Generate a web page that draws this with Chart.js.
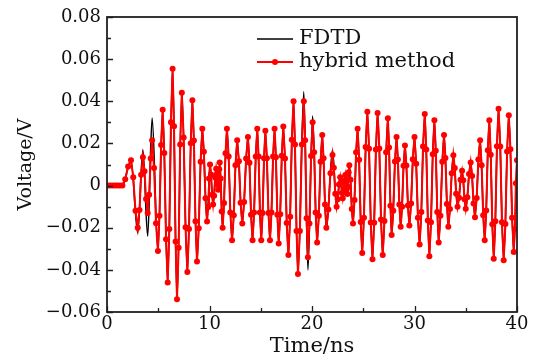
<!DOCTYPE html>
<html>
<head>
<meta charset="utf-8">
<script src="https://cdn.jsdelivr.net/npm/chart.js@4/dist/chart.umd.min.js"></script>
<style>
  html, body { margin: 0; padding: 0; background: #fff; }
  canvas { display: block; }
</style>
</head>
<body>
<canvas id="chart" width="534" height="363"></canvas>
<script>
// FDTD reference: extrema of the waveform (ns, V)
const fdtdTime = [0, 1.5, 2.34, 3.0, 3.5, 3.97, 4.4, 4.97, 5.43, 5.92,
  6.4, 6.83, 7.3, 7.84, 8.33, 8.78, 9.3, 9.76, 10.05, 10.35,
  10.65, 10.85, 11.0, 11.28, 11.7, 12.2, 12.7, 13.2, 13.75, 14.2,
  14.66, 15.05, 15.45, 15.9, 16.35, 16.75, 17.2, 17.7, 18.2, 18.63,
  19.2, 19.6, 20.06, 20.5, 21.0, 21.4, 22.0, 22.4, 22.75, 23.0,
  23.25, 23.45, 23.64, 24.0, 24.45, 24.9, 25.4, 25.9, 26.4, 26.9,
  27.4, 27.77, 28.25, 28.65, 29.07, 29.5, 30.0, 30.5, 31.0, 31.45,
  31.94, 32.36, 32.88, 33.3, 33.79, 34.2, 34.64, 35.0, 35.48, 35.9,
  36.4, 36.85, 37.3, 37.73, 38.2, 38.7, 39.2, 39.68, 40.0];
const fdtdVolt = [0, 0, 0.012, -0.0225, 0.017, -0.024, 0.032, -0.031, 0.036, -0.046,
  0.0555, -0.054, 0.044, -0.041, 0.0405, -0.036, 0.027, -0.017, 0.010, -0.009,
  0.008, -0.002, 0.011, -0.020, 0.027, -0.026, 0.0215, -0.018, 0.023, -0.026,
  0.027, -0.026, 0.026, -0.026, 0.027, -0.0275, 0.028, -0.033, 0.040, -0.042,
  0.0445, -0.040, 0.033, -0.027, 0.024, -0.021, 0.017, -0.010, 0.004, -0.006,
  0.005, -0.004, 0.0097, -0.018, 0.027, -0.032, 0.035, -0.035, 0.0345, -0.033,
  0.032, -0.0235, 0.023, -0.0196, 0.019, -0.019, 0.023, -0.028, 0.034, -0.0335,
  0.031, -0.027, 0.024, -0.0196, 0.0144, -0.010, 0.007, -0.011, 0.011, -0.015,
  0.0215, -0.026, 0.031, -0.0347, 0.0365, -0.0354, 0.0334, -0.0315, 0.012];

// hybrid method samples (ns, V)
const hybridTime = [0, 0.25, 0.5, 0.75, 1.0, 1.25, 1.5,
  1.78, 2.06, 2.34, 2.56, 2.78, 3.0, 3.17, 3.33, 3.5,
  3.66, 3.81, 3.97, 4.11, 4.26, 4.4, 4.59, 4.78, 4.97,
  5.12, 5.28, 5.43, 5.59, 5.76, 5.92, 6.08, 6.24, 6.4,
  6.54, 6.69, 6.83, 6.99, 7.14, 7.3, 7.48, 7.66, 7.84,
  8.0, 8.17, 8.33, 8.48, 8.63, 8.78, 8.95, 9.13, 9.3,
  9.45, 9.61, 9.76, 9.86, 9.95, 10.05, 10.15, 10.25, 10.35,
  10.45, 10.55, 10.65, 10.72, 10.78, 10.85, 10.9, 10.95, 11.0,
  11.09, 11.19, 11.28, 11.42, 11.56, 11.7, 11.87, 12.03, 12.2,
  12.37, 12.53, 12.7, 12.87, 13.03, 13.2, 13.38, 13.57, 13.75,
  13.9, 14.05, 14.2, 14.35, 14.51, 14.66, 14.79, 14.92, 15.05,
  15.18, 15.32, 15.45, 15.6, 15.75, 15.9, 16.05, 16.2, 16.35,
  16.48, 16.62, 16.75, 16.9, 17.05, 17.2, 17.37, 17.53, 17.7,
  17.87, 18.03, 18.2, 18.34, 18.49, 18.63, 18.82, 19.01, 19.2,
  19.33, 19.47, 19.6, 19.75, 19.91, 20.06, 20.21, 20.35, 20.5,
  20.67, 20.83, 21.0, 21.13, 21.27, 21.4, 21.6, 21.8, 22.0,
  22.13, 22.27, 22.4, 22.52, 22.63, 22.75, 22.83, 22.92, 23.0,
  23.08, 23.17, 23.25, 23.32, 23.38, 23.45, 23.51, 23.58, 23.64,
  23.76, 23.88, 24.0, 24.15, 24.3, 24.45, 24.6, 24.75, 24.9,
  25.07, 25.23, 25.4, 25.57, 25.73, 25.9, 26.07, 26.23, 26.4,
  26.57, 26.73, 26.9, 27.07, 27.23, 27.4, 27.52, 27.65, 27.77,
  27.93, 28.09, 28.25, 28.38, 28.52, 28.65, 28.79, 28.93, 29.07,
  29.21, 29.36, 29.5, 29.67, 29.83, 30.0, 30.17, 30.33, 30.5,
  30.67, 30.83, 31.0, 31.15, 31.3, 31.45, 31.61, 31.78, 31.94,
  32.08, 32.22, 32.36, 32.53, 32.71, 32.88, 33.02, 33.16, 33.3,
  33.46, 33.63, 33.79, 33.93, 34.06, 34.2, 34.35, 34.49, 34.64,
  34.76, 34.88, 35.0, 35.16, 35.32, 35.48, 35.62, 35.76, 35.9,
  36.07, 36.23, 36.4, 36.55, 36.7, 36.85, 37.0, 37.15, 37.3,
  37.44, 37.59, 37.73, 37.89, 38.04, 38.2, 38.37, 38.53, 38.7,
  38.87, 39.03, 39.2, 39.36, 39.52, 39.68, 39.79, 39.89, 40.0];
const hybridVolt = [0, 0, 0, 0, 0, 0, 0,
  0.003, 0.009, 0.012, 0.004, -0.012, -0.020, -0.0116, 0.0051, 0.0135,
  0.0068, -0.0064, -0.013, -0.0044, 0.0128, 0.0215, 0.0083, -0.0179, -0.031,
  -0.0143, 0.0192, 0.036, 0.0155, -0.0255, -0.046, -0.0206, 0.0301, 0.0555,
  0.0281, -0.0266, -0.054, -0.0295, 0.0195, 0.044, 0.0228, -0.0198, -0.041,
  -0.0206, 0.0201, 0.0405, 0.0214, -0.0169, -0.036, -0.0203, 0.0113, 0.027,
  0.016, -0.006, -0.017, -0.0103, 0.0033, 0.010, 0.0053, -0.0043, -0.009,
  -0.0048, 0.0038, 0.008, 0.0055, 0.0005, -0.002, 0.0013, 0.0078, 0.011,
  0.0033, -0.0123, -0.020, -0.0083, 0.0153, 0.027, 0.0138, -0.0128, -0.026,
  -0.0141, 0.0096, 0.0215, 0.0116, -0.0081, -0.018, -0.0078, 0.0128, 0.023,
  0.0108, -0.0138, -0.026, -0.0128, 0.0138, 0.027, 0.0138, -0.0128, -0.026,
  -0.013, 0.013, 0.026, 0.013, -0.013, -0.026, -0.0128, 0.0138, 0.027,
  0.0134, -0.0139, -0.0275, -0.0136, 0.0141, 0.028, 0.0128, -0.0178, -0.033,
  -0.0148, 0.0218, 0.040, 0.0195, -0.0215, -0.042, -0.0215, 0.0195, 0.040,
  0.0215, -0.0155, -0.034, -0.018, 0.014, 0.030, 0.0158, -0.0128, -0.027,
  -0.0143, 0.0113, 0.024, 0.013, -0.009, -0.020, -0.0114, 0.0059, 0.0145,
  0.0084, -0.0039, -0.010, -0.0065, 0.0005, 0.004, 0.0015, -0.0035, -0.006,
  -0.0033, 0.0023, 0.005, 0.0028, -0.0018, -0.004, -0.0006, 0.0063, 0.0097,
  0.0028, -0.0111, -0.018, -0.0068, 0.0158, 0.027, 0.0123, -0.0173, -0.032,
  -0.0153, 0.0183, 0.035, 0.0175, -0.0175, -0.035, -0.0176, 0.0171, 0.0345,
  0.0176, -0.0161, -0.033, -0.0168, 0.0158, 0.032, 0.0181, -0.0096, -0.0235,
  -0.0119, 0.0114, 0.023, 0.0124, -0.009, -0.0196, -0.01, 0.0094, 0.019,
  0.0095, -0.0095, -0.019, -0.0085, 0.0125, 0.023, 0.0103, -0.0153, -0.028,
  -0.0125, 0.0185, 0.034, 0.0171, -0.0166, -0.0335, -0.0174, 0.0149, 0.031,
  0.0165, -0.0125, -0.027, -0.0143, 0.0113, 0.024, 0.0131, -0.0087, -0.0196,
  -0.0111, 0.0059, 0.0144, 0.0083, -0.0039, -0.010, -0.0058, 0.0028, 0.007,
  0.0025, -0.0065, -0.011, -0.0055, 0.0055, 0.011, 0.0045, -0.0085, -0.015,
  -0.0059, 0.0124, 0.0215, 0.0096, -0.0141, -0.026, -0.0118, 0.0168, 0.031,
  0.0146, -0.0183, -0.0347, -0.0169, 0.0187, 0.0365, 0.0185, -0.0174, -0.0354,
  -0.0182, 0.0162, 0.0334, 0.0172, -0.0153, -0.0315, -0.0206, 0.0011, 0.012];

const xTickValues = [0, 10, 20, 30, 40];
const xTickLabels = ['0', '10', '20', '30', '40'];
const yTickValues = [-0.06, -0.04, -0.02, 0, 0.02, 0.04, 0.06, 0.08];
const yTickLabels = ['\u22120.06', '\u22120.04', '\u22120.02', '0', '0.02', '0.04', '0.06', '0.08'];
const seriesNames = ['FDTD', 'hybrid method'];

const FONT = "'DejaVu Serif', 'Liberation Serif', serif";
const INK = '#231f20';
Chart.defaults.font.family = FONT;
Chart.defaults.color = '#111';

const toXY = (ts, vs) => ts.map((t, i) => ({ x: t, y: vs[i] }));

// inward ticks, box frame and the legend
const frame = {
  id: 'frame',
  afterDatasetsDraw(chart) {
    const { ctx, chartArea: a, scales: { x, y } } = chart;
    ctx.save();
    ctx.strokeStyle = INK;
    ctx.lineWidth = 1.3;
    ctx.beginPath();
    xTickValues.forEach((v, i) => {
      const px = Math.round(x.getPixelForValue(v)) + 0.5;
      ctx.moveTo(px, a.bottom); ctx.lineTo(px, a.bottom - 6);
      if (i < xTickValues.length - 1) {
        const mx = Math.round(x.getPixelForValue((v + xTickValues[i + 1]) / 2)) + 0.5;
        ctx.moveTo(mx, a.bottom); ctx.lineTo(mx, a.bottom - 4);
      }
    });
    yTickValues.forEach((v, i) => {
      const py = Math.round(y.getPixelForValue(v)) + 0.5;
      ctx.moveTo(a.left, py); ctx.lineTo(a.left + 6, py);
      if (i < yTickValues.length - 1) {
        const my = Math.round(y.getPixelForValue((v + yTickValues[i + 1]) / 2)) + 0.5;
        ctx.moveTo(a.left, my); ctx.lineTo(a.left + 4, my);
      }
    });
    ctx.stroke();
    ctx.lineWidth = 1.8;
    ctx.strokeRect(a.left, a.top, a.width, a.height);

    // legend
    ctx.font = '21px ' + FONT;
    ctx.textBaseline = 'middle';
    ctx.fillStyle = '#111';
    ctx.lineWidth = 1.5;
    ctx.strokeStyle = '#000';
    ctx.beginPath(); ctx.moveTo(257, 39); ctx.lineTo(293, 39); ctx.stroke();
    ctx.fillText(seriesNames[0], 299, 39);
    ctx.strokeStyle = '#ff0000';
    ctx.lineWidth = 1.8;
    ctx.beginPath(); ctx.moveTo(257, 62); ctx.lineTo(293, 62); ctx.stroke();
    ctx.fillStyle = '#ff0000';
    ctx.beginPath(); ctx.arc(275, 62, 3, 0, Math.PI * 2); ctx.fill();
    ctx.fillStyle = '#111';
    ctx.fillText(seriesNames[1], 299, 62);
    ctx.restore();
  }
};

new Chart(document.getElementById('chart'), {
  type: 'line',
  data: {
    datasets: [
      {
        label: seriesNames[1],
        data: toXY(hybridTime, hybridVolt),
        borderColor: '#ff0000',
        borderWidth: 2,
        pointRadius: 3,
        pointBackgroundColor: '#ff0000',
        pointBorderWidth: 0,
        tension: 0,
        clip: 0
      },
      {
        label: seriesNames[0],
        data: toXY(fdtdTime, fdtdVolt),
        borderColor: '#000',
        borderWidth: 1.6,
        pointRadius: 0,
        cubicInterpolationMode: 'monotone',
        clip: 0
      }
    ]
  },
  options: {
    responsive: false,
    animation: false,
    devicePixelRatio: 1,
    layout: { padding: { left: 0, right: 17, top: 17, bottom: 0 } },
    plugins: { legend: { display: false }, tooltip: { enabled: false } },
    scales: {
      x: {
        type: 'linear',
        min: 0,
        max: 40,
        afterBuildTicks: s => { s.ticks = xTickValues.map(v => ({ value: v })); },
        afterFit: s => { s.height = 51; },
        grid: { display: false, drawTicks: false },
        border: { display: false },
        ticks: {
          padding: 2,
          maxRotation: 0,
          font: { size: 18 },
          callback: (v, i) => xTickLabels[i]
        },
        title: {
          display: true,
          text: 'Time/ns',
          font: { size: 21 },
          padding: { top: 0, bottom: 4 }
        }
      },
      y: {
        min: -0.06,
        max: 0.08,
        afterBuildTicks: s => { s.ticks = yTickValues.map(v => ({ value: v })); },
        afterFit: s => { s.width = 107; },
        grid: { display: false, drawTicks: false },
        border: { display: false },
        ticks: {
          padding: 6,
          font: { size: 18 },
          callback: (v, i) => yTickLabels[i]
        },
        title: {
          display: true,
          text: 'Voltage/V',
          font: { size: 19 },
          padding: { top: 15, bottom: 0 }
        }
      }
    }
  },
  plugins: [frame]
});
</script>
</body>
</html>
